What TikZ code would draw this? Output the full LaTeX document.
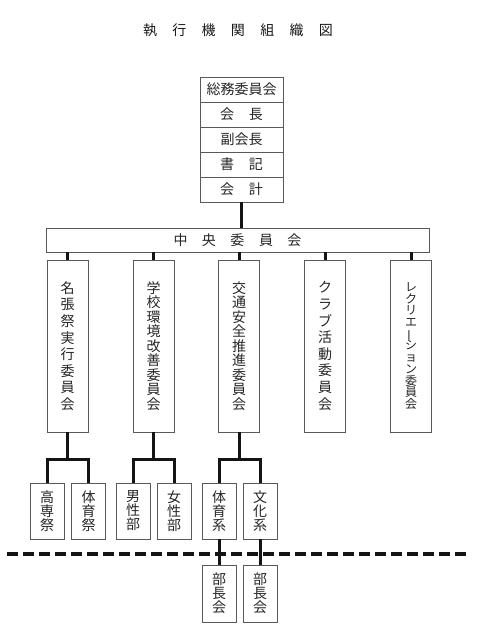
\documentclass[tikz,border=0pt]{standalone}
\usepackage{fontspec}
\setmainfont{Noto Sans CJK JP}
\begin{document}
\lineskiplimit=-100pt
\lineskip=0pt
\begin{tikzpicture}[x=1pt,y=-1pt]
\tikzset{
  box/.style={draw=black!65, line width=0.8pt, inner sep=0pt, fill=white, text=black!85,
              font=\fontsize{14}{14}\selectfont},
  rowbox/.style={box, minimum width=83pt, minimum height=25pt},
  vwide/.style={font=\fontsize{14}{16.6}\selectfont},
  vmid/.style={font=\fontsize{14}{14.5}\selectfont},
  vtight/.style={font=\fontsize{12}{11.7}\selectfont},
  vbox/.style={box, minimum width=41pt, minimum height=172pt, align=center},
  cbox/.style={box, minimum width=34pt, minimum height=56pt, align=center},
  conn/.style={line width=3pt, draw=black!92, line join=miter},
  dline/.style={line width=3.5pt, draw=black!92, dash pattern=on 11pt off 5pt},
}
\useasboundingbox (0,0) rectangle (480,631);

% title
\node[text=black!90, font=\fontsize{14}{14}\selectfont, inner sep=0pt] (title) at (238,30)
  {執\hspace{15.3pt}行\hspace{15.3pt}機\hspace{15.3pt}関\hspace{15.3pt}組\hspace{15.3pt}織\hspace{15.3pt}図};

% top stack
\node[rowbox] (r1) at (241.5,89.5) {総務委員会};
\node[rowbox] (r2) at (241.5,114.5) {会\hspace{15pt}長};
\node[rowbox] (r3) at (241.5,139.5) {副会長};
\node[rowbox] (r4) at (241.5,164.5) {書\hspace{15pt}記};
\node[rowbox] (r5) at (241.5,189.5) {会\hspace{15pt}計};

% central committee
\node[box, minimum width=383pt, minimum height=24pt] (cc) at (237.5,240)
  {中\hspace{14.5pt}央\hspace{14.5pt}委\hspace{14.5pt}員\hspace{14.5pt}会};

% committees
\node[vbox, vwide] (b1) at (67.5,346) {名\\張\\祭\\実\\行\\委\\員\\会};
\node[vbox, vmid] (b2) at (153.5,346) {学\\校\\環\\境\\改\\善\\委\\員\\会};
\node[vbox, vmid] (b3) at (239,346) {交\\通\\安\\全\\推\\進\\委\\員\\会};
\node[vbox, vwide] (b4) at (325,346) {ク\\ラ\\ブ\\活\\動\\委\\員\\会};
\node[vbox, vtight] (b5) at (411,346)
  {レ\\ク\\リ\\エ\\\rotatebox[origin=c]{90}{ー}\\シ\\ョ\\ン\\委\\員\\会};

% sub units
\node[cbox] (c11) at (47,511) {高\\専\\祭};
\node[cbox] (c12) at (88.5,511) {体\\育\\祭};
\node[cbox] (c21) at (133,511) {男\\性\\部};
\node[cbox] (c22) at (174,511) {女\\性\\部};
\node[cbox] (c31) at (219,511) {体\\育\\系};
\node[cbox] (c32) at (260,511) {文\\化\\系};

\node[cbox, minimum height=57pt] (d1) at (219,593.5) {部\\長\\会};
\node[cbox, minimum height=57pt] (d2) at (260,593.5) {部\\長\\会};

% dashed separator
\coordinate (dl) at (7,554);
\coordinate (dr) at (468,554);
\draw[dline] (dl) -- (dr);

% connectors
\draw[conn] (r5.south) -- (r5.south |- cc.north);
\foreach \b in {b1,b2,b3,b4,b5}
  \draw[conn] (\b.north |- cc.south) -- (\b.north);

\coordinate (bar) at (0,459);
\draw[conn] (b1.south) -- (b1.south |- bar);
\draw[conn] (c11.north) -- (c11.north |- bar) -- (c12.north |- bar) -- (c12.north);
\draw[conn] (b2.south) -- (b2.south |- bar);
\draw[conn] (c21.north) -- (c21.north |- bar) -- (c22.north |- bar) -- (c22.north);
\draw[conn] (b3.south) -- (b3.south |- bar);
\draw[conn] (c31.north) -- (c31.north |- bar) -- (c32.north |- bar) -- (c32.north);

\draw[conn] (c31.south) -- (d1.north);
\draw[conn] (c32.south) -- (d2.north);
\end{tikzpicture}
\end{document}
